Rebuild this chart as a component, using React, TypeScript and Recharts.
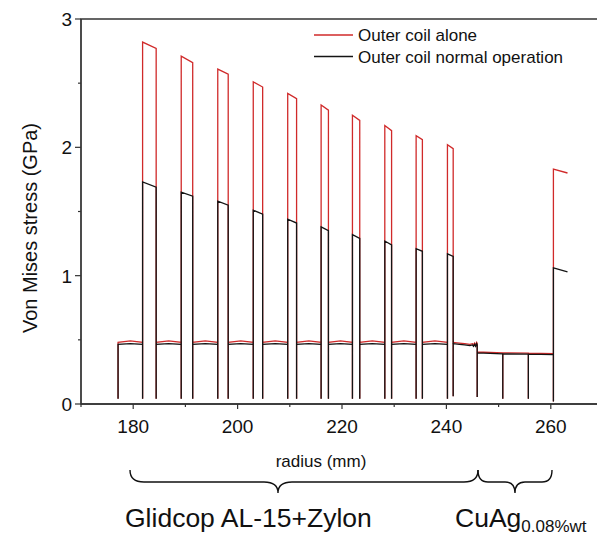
import { LineChart, Line, XAxis, YAxis, ReferenceArea } from "recharts";

// layer boundaries (mm) and stresses (GPa)
const glidcopStart = [177.1, 184.4, 191.4, 198.2, 204.8, 211.3, 217.4, 223.4, 229.5, 235.4];
const glidcopEnd = [181.8, 189.2, 196.2, 203.0, 209.6, 216.0, 222.0, 228.2, 234.2, 240.2];
const zylonEnd = [184.4, 191.4, 198.2, 204.8, 211.3, 217.4, 223.4, 229.5, 235.4, 241.3];

// conductor plateau: start, middle, end
const glidcopAlone = [0.48, 0.492, 0.48];
const glidcopNormal = [0.465, 0.47, 0.465];

// reinforcement: value at inner and outer edge
const zylonAloneIn = [2.82, 2.71, 2.61, 2.51, 2.42, 2.33, 2.25, 2.17, 2.09, 2.02];
const zylonAloneOut = [2.77, 2.66, 2.57, 2.47, 2.38, 2.29, 2.21, 2.13, 2.06, 1.99];
const zylonNormalIn = [1.73, 1.65, 1.58, 1.51, 1.44, 1.38, 1.32, 1.27, 1.21, 1.17];
const zylonNormalOut = [1.69, 1.62, 1.55, 1.48, 1.41, 1.35, 1.29, 1.24, 1.19, 1.15];

const interfaceDip = 0.04;

// last Glidcop layer (noisy)
const lastGlidcopR = [241.3, 242.5, 243.5, 244.5, 245.0, 245.2, 245.4, 245.6, 245.8, 245.9];
const lastGlidcopAlone = [0.48, 0.475, 0.47, 0.465, 0.47, 0.46, 0.475, 0.46, 0.48, 0.47];
const lastGlidcopNormal = [0.47, 0.465, 0.46, 0.455, 0.46, 0.45, 0.465, 0.45, 0.47, 0.46];
const lastGlidcopDip = 0.06;

// CuAg layers
const cuagStart = [245.9, 250.8, 255.7];
const cuagEnd = [250.8, 255.7, 260.5];
const cuagDip = [0.055, 0.04, 0.04];
const cuagAlone = [[0.405, 0.398], [0.398, 0.397], [0.397, 0.393]];
const cuagNormal = [[0.398, 0.39], [0.39, 0.389], [0.389, 0.385]];

// outermost layer
const outerR = [260.5, 263.2];
const outerAlone = [1.83, 1.8];
const outerNormal = [1.06, 1.03];
const outerDip = 0.02;

const xTicks = [170, 180, 190, 200, 210, 220, 230, 240, 250, 260, 270];
const yTicks = [0, 0.5, 1, 1.5, 2, 2.5, 3];

type Pt = { r: number; alone: number; normal: number };
const data: Pt[] = [];
const addLayer = (r0: number, r1: number, dip: number, alone: number[], normal: number[]) => {
  data.push({ r: r0, alone: dip, normal: dip });
  const n = alone.length;
  alone.forEach((a, i) => {
    data.push({ r: r0 + ((r1 - r0) * i) / (n - 1), alone: a, normal: normal[i] });
  });
};
glidcopStart.forEach((g0, i) => {
  addLayer(g0, glidcopEnd[i], interfaceDip, glidcopAlone, glidcopNormal);
  addLayer(glidcopEnd[i], zylonEnd[i], interfaceDip, [zylonAloneIn[i], zylonAloneOut[i]], [zylonNormalIn[i], zylonNormalOut[i]]);
});
data.push({ r: lastGlidcopR[0], alone: lastGlidcopDip, normal: lastGlidcopDip });
lastGlidcopR.forEach((r, i) => data.push({ r, alone: lastGlidcopAlone[i], normal: lastGlidcopNormal[i] }));
cuagStart.forEach((c0, i) => addLayer(c0, cuagEnd[i], cuagDip[i], cuagAlone[i], cuagNormal[i]));
addLayer(outerR[0], outerR[1], outerDip, outerAlone, outerNormal);

const FONT = "'Liberation Sans', Arial, sans-serif";
const AXIS = "#333";
const RED = "#d02a2a";
const BLACK = "#141414";

const XTick = (props: any) => {
  const { x, y, payload } = props;
  const v = payload.value;
  const major = v % 20 === 0;
  return (
    <g>
      <line x1={x} x2={x} y1={y} y2={y + (major ? 5 : 3)} stroke={AXIS} strokeWidth={1.2} />
      {major && (
        <text x={x} y={y + 29} textAnchor="middle" fontSize={19} fontFamily={FONT} fill="#111">
          {v}
        </text>
      )}
    </g>
  );
};

const YTick = (props: any) => {
  const { x, y, payload } = props;
  const v = payload.value;
  const major = Number.isInteger(v);
  return (
    <g>
      <line x1={x - (major ? 6 : 3)} x2={x} y1={y} y2={y} stroke={AXIS} strokeWidth={1.2} />
      {major && (
        <text x={x - 9} y={y + 7} textAnchor="end" fontSize={19} fontFamily={FONT} fill="#111">
          {v}
        </text>
      )}
    </g>
  );
};

const brace = (x0: number, x1: number, xm: number, yTop: number, yMid: number, yTip: number, rr: number) =>
  `M${x0},${yTop} Q${x0},${yMid} ${x0 + rr},${yMid} L${xm - rr},${yMid} Q${xm},${yMid} ${xm},${yTip} ` +
  `Q${xm},${yMid} ${xm + rr},${yMid} L${x1 - rr},${yMid} Q${x1},${yMid} ${x1},${yTop}`;

export default function App() {
  return (
    <div style={{ position: "relative", width: 597, height: 529 }}>
      <LineChart width={597} height={529} data={data} margin={{ top: 11, right: 2, bottom: 93, left: 0 }}>
        <ReferenceArea x1={170} x2={270} y1={0} y2={3} fill="none" stroke={AXIS} strokeWidth={1.3} />
        <XAxis
          dataKey="r"
          type="number"
          domain={[170, 270]}
          ticks={xTicks}
          interval={0}
          tickLine={false}
          tickSize={0}
          tickMargin={0}
          tick={<XTick />}
          height={40}
          stroke={AXIS}
          strokeWidth={1.3}
        />
        <YAxis
          type="number"
          domain={[0, 3]}
          ticks={yTicks}
          interval={0}
          tickLine={false}
          tickSize={0}
          tickMargin={0}
          tick={<YTick />}
          width={73}
          stroke={AXIS}
          strokeWidth={1.3}
        />
        <Line dataKey="alone" stroke={RED} strokeWidth={1.3} dot={false} isAnimationActive={false} />
        <Line dataKey="normal" stroke={BLACK} strokeWidth={1.3} dot={false} isAnimationActive={false} />
      </LineChart>
      <svg width={597} height={529} style={{ position: "absolute", left: 0, top: 0, pointerEvents: "none" }}>
        <g transform="translate(-8,-8)" fontFamily={FONT} fill="#111">
          <text transform="translate(37,228) rotate(-90)" textAnchor="middle" fontSize={20}>
            Von Mises stress (GPa)
          </text>
          <text x={321} y={467} textAnchor="middle" fontSize={17}>
            radius (mm)
          </text>
          <line x1={314} x2={353} y1={35} y2={35} stroke={RED} strokeWidth={1.3} />
          <text x={358} y={41} fontSize={17}>Outer coil alone</text>
          <line x1={314} x2={353} y1={56.5} y2={56.5} stroke={BLACK} strokeWidth={1.3} />
          <text x={358} y={63} fontSize={17}>Outer coil normal operation</text>
          <path d={brace(130, 478, 278, 470, 482, 493, 14)} fill="none" stroke="#111" strokeWidth={1.4} />
          <path d={brace(478, 552, 515, 470, 482, 493, 10)} fill="none" stroke="#111" strokeWidth={1.4} />
          <text x={125} y={527} fontSize={26.5}>Glidcop AL-15+Zylon</text>
          <text x={455} y={527} fontSize={26.5}>
            CuAg<tspan fontSize={17} dy={5}>0.08%wt</tspan>
          </text>
        </g>
      </svg>
    </div>
  );
}
